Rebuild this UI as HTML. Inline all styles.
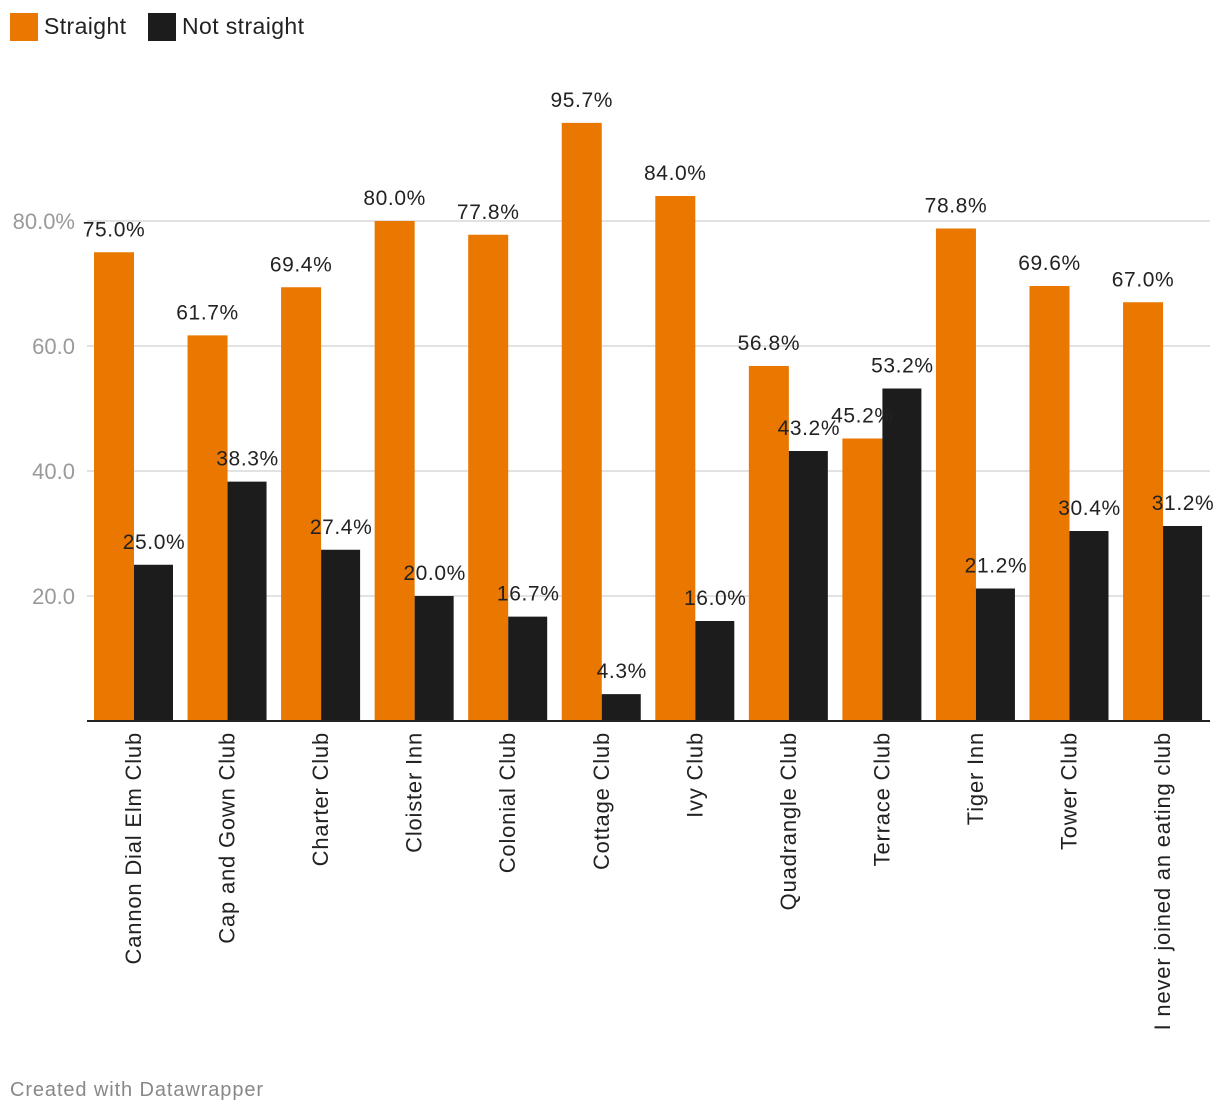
<!DOCTYPE html>
<html><head><meta charset="utf-8"><style>
body{margin:0;background:#fff;width:1220px;height:1112px;overflow:hidden;font-family:"Liberation Sans",sans-serif}
svg text{font-family:"Liberation Sans",sans-serif}
</style></head><body>
<svg id="chart" width="1220" height="1112" xmlns="http://www.w3.org/2000/svg">
<g>
<rect x="10" y="13" width="28" height="28" fill="#e97700"/>
<text x="44" y="34" font-size="23" letter-spacing="0.4" fill="#222">Straight</text>
<rect x="148" y="13" width="28" height="28" fill="#1c1c1c"/>
<text x="182" y="34" font-size="23" letter-spacing="0.4" fill="#222">Not straight</text>
</g>
<g id="grid"></g><g id="bars"></g><g id="labels"></g><g id="cats"></g>
<text x="10" y="1096" font-size="20" letter-spacing="0.9" fill="#888">Created with Datawrapper</text>
</svg>
<script>
const categories=["Cannon Dial Elm Club","Cap and Gown Club","Charter Club","Cloister Inn","Colonial Club","Cottage Club","Ivy Club","Quadrangle Club","Terrace Club","Tiger Inn","Tower Club","I never joined an eating club"];
const straight=[75.0,61.7,69.4,80.0,77.8,95.7,84.0,56.8,45.2,78.8,69.6,67.0];
const notStraight=[25.0,38.3,27.4,20.0,16.7,4.3,16.0,43.2,53.2,21.2,30.4,31.2];
const yTicks=[20,40,60,80];
const yTickLabels=["20.0","40.0","60.0","80.0%"];
const NS="http://www.w3.org/2000/svg";
const y0=721,k=6.25,x0=94,step=93.55,bw=40;
const y=v=>y0-v*k;
const gx=i=>x0+i*step;
function mk(tag,attrs,parent,txt){const e=document.createElementNS(NS,tag);for(const a in attrs)e.setAttribute(a,attrs[a]);if(txt!==undefined)e.textContent=txt;document.getElementById(parent).appendChild(e);return e;}
yTicks.forEach((t,i)=>{
 const l=mk('line',{x1:87,x2:1210,y1:y(t),y2:y(t),stroke:'#e2e2e2','stroke-width':2},'grid');
 
 
 const tx=mk('text',{x:75,y:y(t)+8,'text-anchor':'end','font-size':22,fill:'#9a9a9a'},'grid',yTickLabels[i]);
 
 
});
categories.forEach((c,i)=>{
 const xs=gx(i),xn=xs+bw;
 const b1=mk('rect',{x:xs,y:y(straight[i]),width:bw,height:straight[i]*k,fill:'#e97700'},'bars');
 
 
 const b2=mk('rect',{x:xn,y:y(notStraight[i]),width:bw-1,height:notStraight[i]*k,fill:'#1c1c1c'},'bars');
 
 
 const l1=mk('text',{x:xs+bw/2,y:y(straight[i])-16,'text-anchor':'middle','font-size':21,'letter-spacing':0.6,fill:'#222'},'labels',straight[i].toFixed(1)+'%');
 
 
 const l2=mk('text',{x:xn+bw/2,y:y(notStraight[i])-16,'text-anchor':'middle','font-size':21,'letter-spacing':0.6,fill:'#222'},'labels',notStraight[i].toFixed(1)+'%');
 
 
 const cx=xn+7;
 const ct=mk('text',{x:0,y:0,'text-anchor':'end','font-size':22,'letter-spacing':0.8,fill:'#222',transform:`translate(${cx},732) rotate(-90)`},'cats',c);
 
 
});
const ax=mk('line',{x1:87,x2:1210,y1:y0,y2:y0,stroke:'#222','stroke-width':2},'labels');


</script>
</body></html>
